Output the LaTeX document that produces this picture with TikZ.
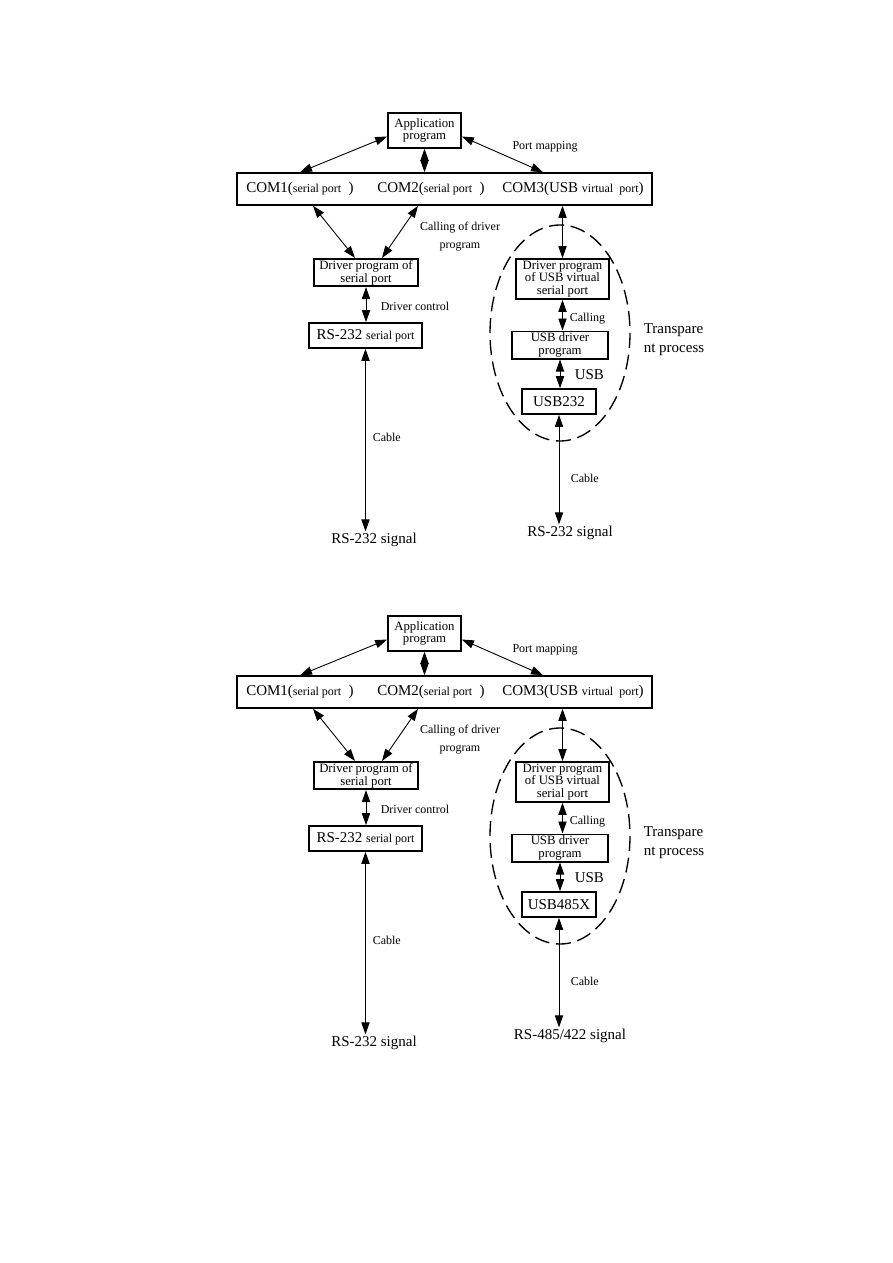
\documentclass[tikz,border=0pt]{standalone}
\usepackage{fontspec}
\setmainfont{Liberation Serif}
\usetikzlibrary{arrows.meta,calc}
\newcommand\fsmall{\fontsize{8}{8.5}\selectfont}
\newcommand\fbig{\fontsize{10}{12.5}\selectfont}
\tikzset{
  unit/.style={draw, line width=1.1pt, align=center, inner sep=1pt, font=\fontsize{8.5}{8.5}\selectfont},
  lbl/.style={font=\fsmall, inner sep=1pt},
  biglbl/.style={font=\fbig, inner sep=1pt},
  link/.style={{Triangle[length=8pt,width=5.5pt]}-{Triangle[length=8pt,width=5.5pt]}, line width=0.6pt},
}

\begin{document}
\begin{tikzpicture}[x=0.6667pt, y=-0.6667pt]
\useasboundingbox (0,0) rectangle (893,1263);
\foreach \oy/\n/\dev/\sig in {0/a/USB232/{RS-232 signal}, 503/b/USB485X/{RS-485/422 signal}}{
  \begin{scope}[shift={(0,\oy)}]
    % application and ports
    \node[unit, minimum width=48.7pt, minimum height=23.3pt] (app\n) at (424.5,130.5) {Application\\program};
    \node[unit, minimum width=276.7pt, minimum height=21.3pt] (ports\n) at (444.5,189) {};
    \node[biglbl] (com1\n) at (300,189) {COM1({\fsmall serial port}\ \ )};
    \node[biglbl] (com2\n) at (431,189) {COM2({\fsmall serial port}\ \ )};
    \node[biglbl] (com3\n) at (573,189) {COM3(USB {\fsmall virtual\ \ port})};
    \node[lbl] (map\n) at (545,147) {Port mapping};
    % serial side
    \node[unit, minimum width=69.3pt, minimum height=18pt] (drvser\n) at (366,272.5) {Driver program of\\serial port};
    \node[unit, minimum width=75.3pt, minimum height=16.7pt, font=\fbig] (rsport\n) at (365.5,335.5) {RS-232 {\fsmall serial port}};
    \node[biglbl] (sigl\n) at (374,540) {RS-232 signal};
    \node[lbl, align=center, font=\fontsize{8}{12}\selectfont] (call\n) at (460,237) {Calling of driver\\program};
    \node[lbl, anchor=west] (ctrl\n) at (379,306) {Driver control};
    \node[lbl, anchor=west] (cablel\n) at (371,437) {Cable};
    % usb side
    \node[unit, minimum width=62pt, minimum height=26.7pt] (vdrv\n) at (562.5,279) {Driver program\\of USB virtual\\serial port};
    \node[unit, minimum width=64pt, minimum height=17.3pt] (usbdrv\n) at (560,345) {USB driver\\program};
    \node[unit, minimum width=49.3pt, minimum height=16.7pt, font=\fbig] (dev\n) at (559,401.5) {\dev};
    \node[biglbl] (sigr\n) at (570,533) {\sig};
    \node[lbl, anchor=west] (calling\n) at (568,319) {Calling};
    \node[biglbl, anchor=west] (usb\n) at (573,375) {USB};
    \node[lbl, anchor=west] (cabler\n) at (569,478) {Cable};
    \node[biglbl, anchor=west, align=left] (trans\n) at (642,340) {Transpare\\nt process};
    \draw[line width=0.9pt, dash pattern=on 10pt off 4.5pt] (560,333) ellipse [x radius=70, y radius=108];
    % connectors
    \draw[link] ([yshift=-4pt]app\n.west) -- (com1\n |- ports\n.north);
    \draw[link] (app\n.south) -- (app\n.south |- ports\n.north);
    \draw[link] ([yshift=-4pt]app\n.east) -- ($(com3\n |- ports\n.north)+(-30,0)$);
    \draw[link] ($(com1\n |- ports\n.south)+(13,0)$) -- ($(drvser\n.north)+(-11,0)$);
    \draw[link] ($(com2\n |- ports\n.south)+(-13,0)$) -- ($(drvser\n.north)+(16,0)$);
    \draw[link] (drvser\n.south) -- (drvser\n.south |- rsport\n.north);
    \draw[link] (rsport\n.south) -- (rsport\n.south |- sigl\n.north);
    \draw[link] (ports\n.south -| vdrv\n) -- (vdrv\n.north);
    \draw[link] (vdrv\n.south) -- (vdrv\n.south |- usbdrv\n.north);
    \draw[link] (usbdrv\n.south) -- (usbdrv\n.south |- dev\n.north);
    \draw[link] (dev\n.south) -- (dev\n.south |- sigr\n.north);
  \end{scope}
}
\end{tikzpicture}
\end{document}
